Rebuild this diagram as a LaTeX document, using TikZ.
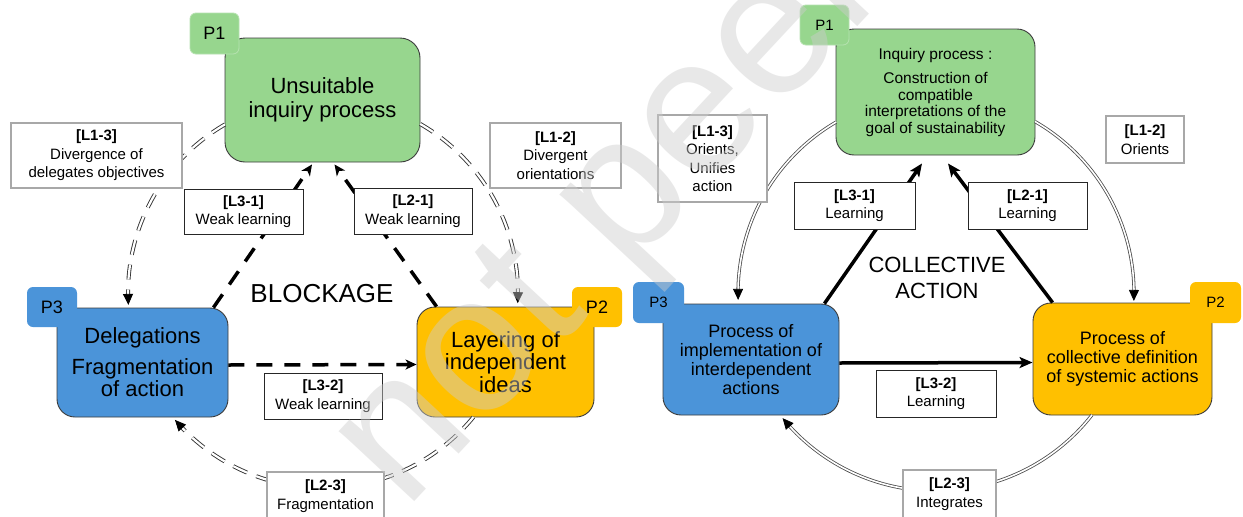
\documentclass[tikz,border=0pt]{standalone}
\usepackage{fontspec}
\setmainfont{Liberation Sans}
\usetikzlibrary{arrows.meta}

\definecolor{stagegreen}{RGB}{151,214,142}
\definecolor{stageblue}{RGB}{75,148,217}
\definecolor{stageyellow}{RGB}{255,192,0}
\definecolor{stageedge}{RGB}{60,60,60}
\definecolor{framegray}{RGB}{168,168,168}
\definecolor{markgray}{RGB}{205,205,205}

\newcommand{\fsz}[2]{\fontsize{#1}{#2}\selectfont}

\begin{document}
\begin{tikzpicture}[x=1pt, y=-1pt,
  stage/.style={draw=stageedge, line width=0.9pt, rounded corners=18pt,
    inner sep=0pt, align=center},
  badge/.style={rounded corners=6pt, inner sep=0pt},
  tag/.style={fill=white, inner sep=0pt, align=center, font=\fsz{15}{18.5}},
  weaktag/.style={tag, draw=framegray, line width=1.3pt},
  strongtag/.style={tag, draw=black!85, line width=0.8pt},
  dashlink/.style={draw=black, line width=3.5pt, dash pattern=on 16pt off 12pt,
    -{Stealth[length=11pt,width=10pt,inset=3pt]}},
  solidlink/.style={draw=black, line width=3.5pt,
    -{Stealth[length=13pt,width=11pt,inset=3pt]}},
  dashdouble/.style={draw=black!80, line width=0.9pt, double=white,
    double distance=2.2pt, dash pattern=on 15pt off 10pt},
  soliddouble/.style={draw=black!70, line width=0.8pt, double=white,
    double distance=1.6pt},
  arctip/.style={draw=black, line width=0.8pt, -{Triangle[length=11pt,width=10pt]}}
]
\useasboundingbox (0,0) rectangle (1243,517);
\fill[white] (0,0) rectangle (1243,517);

% circle centres of the two loops
\coordinate (CL) at (323,293);
\coordinate (CR) at (936,293);

% ---------------- left loop: blockage ----------------
\node[stage, rounded corners=20pt, fill=stagegreen, minimum width=195pt, minimum height=124pt,
  font=\fsz{22}{23.5}] (P1a) at (322.5,100) {Unsuitable\\inquiry process};
\node[badge, fill=stagegreen, draw=stagegreen!70!white, line width=0.8pt,
  minimum width=49pt, minimum height=41pt, font=\fsz{18}{18}] (B1a) at (214.5,33.5) {P1};

\node[stage, fill=stageblue, minimum width=171pt, minimum height=109pt,
  font=\fsz{22}{22.5}] (P3a) at (142.5,362.5) {Delegations\\[8pt]Fragmentation\\of action};
\node[badge, fill=stageblue, minimum width=50pt, minimum height=40pt,
  font=\fsz{18}{18}] (B3a) at (52,307) {P3};

\node[stage, fill=stageyellow, minimum width=177pt, minimum height=110pt,
  font=\fsz{22}{22.5}] (P2a) at (505.5,362) {Layering of\\independent\\ideas};
\node[badge, fill=stageyellow, minimum width=50pt, minimum height=40pt,
  font=\fsz{18}{18}] (B2a) at (597,307) {P2};

\node[font=\fsz{26}{26}] (blk) at (322,294) {BLOCKAGE};

% double dashed loop
\coordinate (a13s) at ([shift={(239.8:195)}]CL);
\coordinate (a13b) at ([shift={(179.7:195)}]CL);
\coordinate (a13e) at ([shift={(176.5:195)}]CL);
\draw[dashdouble] (a13s) arc[start angle=239.8, end angle=178.8, radius=195];
\draw[arctip] (a13b) -- (a13e);

\coordinate (a12s) at ([shift={(-60.1:195)}]CL);
\coordinate (a12b) at ([shift={(-0.2:195)}]CL);
\coordinate (a12e) at ([shift={(3:195)}]CL);
\draw[dashdouble] (a12s) arc[start angle=-60.1, end angle=0.7, radius=195];
\draw[arctip] (a12b) -- (a12e);

\coordinate (a23s) at ([shift={(39.5:195)}]CL);
\coordinate (a23b) at ([shift={(136.2:195)}]CL);
\coordinate (a23e) at ([shift={(139.4:195)}]CL);
\draw[dashdouble] (a23s) arc[start angle=39.5, end angle=137.1, radius=195];
\draw[arctip] (a23b) -- (a23e);

% thick dashed links
\draw[dashlink] ([xshift=-15pt]P3a.north east) -- ([xshift=-10.5pt,yshift=-2pt]P1a.south);
\draw[dashlink] ([xshift=20pt]P2a.north west) -- ([xshift=12pt,yshift=-2pt]P1a.south);
\draw[dashlink] ([yshift=-2.5pt]P3a.east) -- ([yshift=-2.5pt]P2a.west);

% link labels
\node[weaktag, minimum width=171pt, minimum height=65pt] (L13a) at (96.5,155.5)
  {\textbf{[L1-3]}\\Divergence of\\delegates objectives};
\node[strongtag, minimum width=119pt, minimum height=45pt] (L31a) at (243.5,211.5)
  {\textbf{[L3-1]}\\Weak learning};
\node[strongtag, minimum width=118pt, minimum height=46pt] (L21a) at (413,211)
  {\textbf{[L2-1]}\\Weak learning};
\node[weaktag, minimum width=131pt, minimum height=65pt] (L12a) at (555.5,155.5)
  {\textbf{[L1-2]}\\Divergent\\orientations};
\node[strongtag, minimum width=118pt, minimum height=46pt] (L32a) at (323,396)
  {\textbf{[L3-2]}\\Weak learning};
\node[weaktag, minimum width=117pt, minimum height=48pt] (L23a) at (325.5,496)
  {\textbf{[L2-3]}\\Fragmentation};

% ---------------- right loop: collective action ----------------
\node[stage, fill=stagegreen, minimum width=199pt, minimum height=126pt,
  font=\fsz{15.5}{16.5}] (P1b) at (935.5,92)
  {Inquiry process :\\[8pt]Construction of\\compatible\\interpretations of the\\goal of sustainability};
\node[badge, fill=stagegreen, draw=stagegreen!70!white, line width=0.8pt,
  minimum width=49pt, minimum height=40pt, font=\fsz{15}{15}] (B1b) at (824.5,25) {P1};

\node[stage, fill=stageblue, minimum width=176pt, minimum height=111pt,
  font=\fsz{18}{19}] (P3b) at (751,359.5)
  {Process of\\implementation of\\interdependent\\actions};
\node[badge, fill=stageblue, minimum width=51pt, minimum height=41pt,
  font=\fsz{15}{15}] (B3b) at (658.5,302.5) {P3};

\node[stage, fill=stageyellow, minimum width=179pt, minimum height=112pt,
  font=\fsz{18}{19}] (P2b) at (1122.5,359)
  {Process of\\collective definition\\of systemic actions};
\node[badge, fill=stageyellow, minimum width=51pt, minimum height=41pt,
  font=\fsz{15}{15}] (B2b) at (1215.5,302.5) {P2};

\node[align=center, font=\fsz{22}{26}] (col) at (937,278) {COLLECTIVE\\ACTION};

% double solid loop
\coordinate (b13s) at ([shift={(239.7:198)}]CR);
\coordinate (b13b) at ([shift={(181.2:198)}]CR);
\coordinate (b13e) at ([shift={(178:198)}]CR);
\draw[soliddouble] (b13s) arc[start angle=239.7, end angle=180.3, radius=198];
\draw[arctip] (b13b) -- (b13e);

\coordinate (b12s) at ([shift={(-60:198)}]CR);
\coordinate (b12b) at ([shift={(-0.9:198)}]CR);
\coordinate (b12e) at ([shift={(2.3:198)}]CR);
\draw[soliddouble] (b12s) arc[start angle=-60, end angle=0, radius=198];
\draw[arctip] (b12b) -- (b12e);

\coordinate (b23s) at ([shift={(38:198)}]CR);
\coordinate (b23b) at ([shift={(137.6:198)}]CR);
\coordinate (b23e) at ([shift={(140.8:198)}]CR);
\draw[soliddouble] (b23s) arc[start angle=38, end angle=138.5, radius=198];
\draw[arctip] (b23b) -- (b23e);

% thick solid links
\draw[solidlink] ([xshift=-15pt]P3b.north east) -- ([xshift=-13.5pt,yshift=-8pt]P1b.south);
\draw[solidlink] ([xshift=20pt]P2b.north west) -- ([xshift=12.5pt,yshift=-8pt]P1b.south);
\draw[solidlink] ([yshift=-3.5pt]P3b.east) -- ([yshift=-3.5pt]P2b.west);

% link labels
\node[weaktag, minimum width=109pt, minimum height=87pt] (L13b) at (712.5,158.5)
  {\textbf{[L1-3]}\\Orients,\\Unifies\\action};
\node[strongtag, minimum width=121pt, minimum height=47pt] (L31b) at (854.5,205.5)
  {\textbf{[L3-1]}\\Learning};
\node[strongtag, minimum width=119pt, minimum height=47pt] (L21b) at (1027.5,205.5)
  {\textbf{[L2-1]}\\Learning};
\node[weaktag, minimum width=78pt, minimum height=47pt] (L12b) at (1145,139.5)
  {\textbf{[L1-2]}\\Orients};
\node[strongtag, minimum width=120pt, minimum height=47pt] (L32b) at (936,393.5)
  {\textbf{[L3-2]}\\Learning};
\node[weaktag, minimum width=93pt, minimum height=48pt] (L23b) at (949.5,494)
  {\textbf{[L2-3]}\\Integrates};

% watermark across the page
\node[rotate=47, anchor=base west, inner sep=0pt, text=markgray, opacity=0.45,
  font=\fsz{195}{195}] (wm) at (405,512) {not peer-reviewed};
\end{tikzpicture}
\end{document}
